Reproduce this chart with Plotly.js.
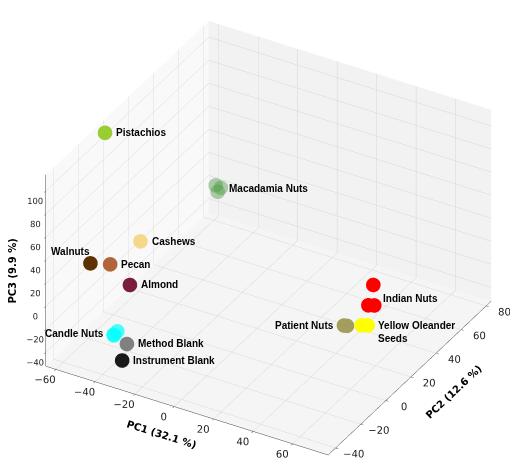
<!DOCTYPE html>
<html>
<head>
<meta charset="utf-8">
<script src="https://cdn.plot.ly/plotly-3.0.1.min.js"></script>
<style>html,body{margin:0;padding:0;background:#fff;}#chart{width:510px;height:476px;}</style>
</head>
<body>
<div id="chart"></div>
<script>
// ---- data (PC scores) ----
const groups = ["Pistachios","Macadamia Nuts","Cashews","Walnuts","Pecan","Almond","Candle Nuts","Method Blank","Instrument Blank","Indian Nuts","Patient Nuts","Yellow Oleander Seeds"];
const pc1 = [[-60.5],[-40,-39,-38],[-40],[-59],[-49],[-39],[-39,-40,-41],[-31],[-31.5],[52.5,50,53],[44,45.5],[53,56]];
const pc2 = [[-6],[50,50,51],[-10],[-20],[-20],[-20],[-30,-31,-30],[-35],[-38],[30,30,30],[20,20],[20,20]];
const pc3 = [[112],[20,15,18],[33],[14],[18.5],[6],[-24,-27,-28],[-25.5],[-37],[4,-15,-13.5],[-25.5,-25],[-20.5,-19]];
const colors = ["#9acd32","#4f9a45","#f5d98b","#5c3300","#b4643a","#7a1c3e","#00ffff","#808080","#1a1a1a","#ff0000","#a39d5e","#ffff00"];
const opac = [1,0.45,1,1,1,1,0.7,1,1,1,1,1];
const labelText = ["Pistachios","Macadamia Nuts","Cashews","Walnuts","Pecan","Almond","Candle Nuts","Method Blank","Instrument Blank","Indian Nuts","Patient Nuts","Yellow Oleander<br>Seeds"];
const xTicks = [-60,-40,-20,0,20,40,60];
const yTicks = [-40,-20,0,20,40,60,80];
const zTicks = [-40,-20,0,20,40,60,80,100];
const axisTitles = ["PC1 (32.1 %)","PC2 (12.6 %)","PC3 (9.9 %)"];

// label placement style
const labelSide = ["r","r","r","tl","r","r","l","r","r","r","l","r"];

const traces = groups.map((g,i)=>({
  type:"scatter3d", mode:"markers", name:g,
  x:pc1[i], y:pc2[i], z:pc3[i],
  marker:{size:8.5, color:colors[i], opacity:opac[i], line:{width:0}},
  hoverinfo:"skip", showlegend:false
}));

const mean = a => a.reduce((s,v)=>s+v,0)/a.length;
const annotations = groups.map((g,i)=>{
  const side = labelSide[i];
  const a = {x:mean(pc1[i]), y:mean(pc2[i]), z:mean(pc3[i]), text:"<b>"+labelText[i]+"</b>",
    showarrow:false, align:"left", font:{family:"Liberation Sans, Arial", size:10, color:"#000"}};
  if(side==="r"){a.xanchor="left"; a.xshift=10;}
  else if(side==="l"){a.xanchor="right"; a.xshift=-8;}
  else {a.xanchor="right"; a.yanchor="bottom"; a.xshift=2; a.yshift=4;}
  if(i===11){a.yanchor="top"; a.yshift=7; a.xshift=12;}
  return a;
});

function ax(title, ticks, range, bg, tsize){
  return {
    title:{text:title ? "<b>"+title+"</b>" : "", font:{family:"DejaVu Sans", size:10, color:"#000"}},
    range:range, tickvals:ticks, tickangle:0,
    tickfont:{family:"DejaVu Sans", size:tsize, color:"#222"},
    showbackground:true, backgroundcolor:bg,
    gridcolor:"rgb(214,214,214)", gridwidth:1,
    zeroline:false, showspikes:false,
    showline:true, linecolor:"#444", linewidth:1,
    ticks:"outside", ticklen:3, tickcolor:"#444"
  };
}

const el = 33*Math.PI/180, az = -60*Math.PI/180, dist = 2.0, boxScale = 1.37;
const layout = {
  width:510, height:476,
  margin:{l:0,r:0,t:0,b:0},
  paper_bgcolor:"#fff",
  scene:{
    domain:{x:[0.05,1], y:[0,1]},
    xaxis:ax(axisTitles[0], xTicks, [-65,78], "rgb(249,249,249)", 11),
    yaxis:ax(axisTitles[1], yTicks, [-46,84], "rgb(242,242,242)", 11),
    zaxis:ax("", zTicks, [-52,114], "rgb(245,245,245)", 10),
    aspectmode:"manual", aspectratio:{x:boxScale, y:boxScale, z:0.7*boxScale},
    camera:{eye:{x:dist*Math.cos(el)*Math.cos(az), y:dist*Math.cos(el)*Math.sin(az), z:dist*Math.sin(el)},
            center:{x:0,y:0,z:0}, up:{x:0,y:0,z:1}, projection:{type:"orthographic"}},
    annotations:annotations
  },
  annotations:[{xref:"paper", yref:"paper", x:0.024, y:0.43, xanchor:"center", yanchor:"middle",
    text:"<b>"+axisTitles[2]+"</b>", textangle:-90, showarrow:false,
    font:{family:"DejaVu Sans", size:10, color:"#000"}}]
};

Plotly.newPlot("chart", traces, layout, {displayModeBar:false});
</script>
</body>
</html>
